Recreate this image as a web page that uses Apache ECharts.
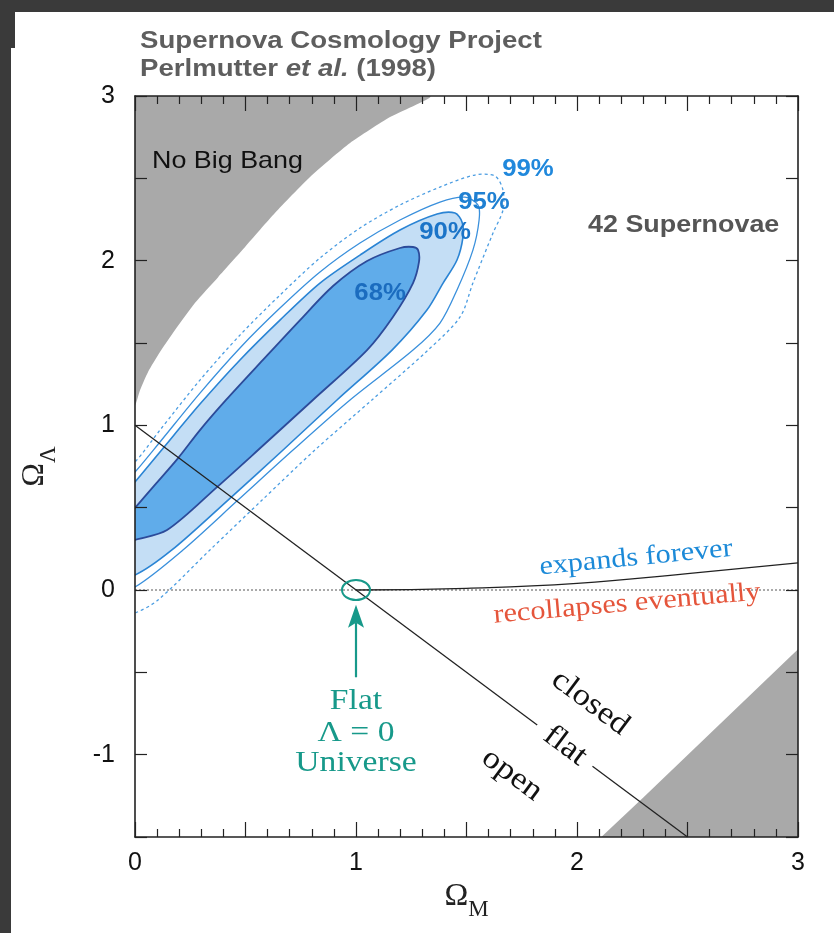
<!DOCTYPE html>
<html><head><meta charset="utf-8">
<script src="https://cdn.jsdelivr.net/npm/echarts@6/dist/echarts.min.js"></script>
<style>html,body{margin:0;padding:0;background:#fff}#c{width:834px;height:933px}</style>
</head><body><div id="c"></div><script>
// ---------- data (Omega_M, Omega_Lambda) ----------
const xTickLabels = [0, 1, 2, 3];
const yTickLabels = [3, 2, 1, 0, -1];

const noBigBang = [[0,1.123],[0.023,1.214],[0.059,1.324],[0.113,1.445],[0.181,1.579],[0.271,1.743],[0.376,1.900],[0.498,2.083],[0.633,2.289],[0.792,2.508],[0.973,2.714],[1.154,2.872],[1.335,3.0],[0,3.0]];
const lowerRight = [[2.11,-1.5],[2.3,-1.26],[3.0,-0.36],[3.0,-1.5]];

const contour68 = [[1.258,2.083],[1.199,2.077],[1.050,1.998],[0.896,1.846],[0.747,1.639],[0.579,1.397],[0.412,1.154],[0.294,0.971],[0.195,0.801],[0.090,0.638],[0,0.498],[-0.077,0.376],[-0.090,0.273],[0,0.304],[0.145,0.364],[0.371,0.625],[0.557,0.850],[0.805,1.154],[1.050,1.457],[1.167,1.658],[1.258,1.864],[1.285,1.992],[1.281,2.064]];
const contour90 = [[1.448,2.289],[1.367,2.283],[1.199,2.186],[1.018,2.034],[0.837,1.864],[0.656,1.639],[0.475,1.397],[0.294,1.129],[0.113,0.838],[0,0.656],[-0.113,0.486],[-0.136,0.061],[0,0.091],[0.167,0.243],[0.421,0.546],[0.670,0.850],[0.914,1.154],[1.163,1.457],[1.321,1.700],[1.394,1.864],[1.457,2.004],[1.484,2.143],[1.480,2.234]];
const contour95 = [[1.552,2.338],[1.493,2.386],[1.380,2.356],[1.199,2.247],[1.018,2.107],[0.837,1.931],[0.656,1.712],[0.475,1.470],[0.294,1.196],[0.113,0.899],[0,0.716],[-0.136,0.516],[-0.158,-0.061],[0,0.018],[0.217,0.243],[0.466,0.546],[0.715,0.850],[0.973,1.154],[1.258,1.457],[1.380,1.621],[1.457,1.822],[1.529,2.064],[1.557,2.247]];
const contour99 = [[1.665,2.429],[1.629,2.514],[1.538,2.520],[1.380,2.447],[1.199,2.338],[1.018,2.198],[0.837,2.016],[0.656,1.791],[0.475,1.548],[0.294,1.275],[0.113,0.971],[0,0.777],[-0.158,0.577],[-0.181,-0.213],[0,-0.140],[0.104,-0.061],[0.339,0.243],[0.575,0.546],[0.814,0.850],[1.072,1.154],[1.326,1.457],[1.471,1.658],[1.529,1.864],[1.620,2.168],[1.665,2.307]];

const flatLineA = [[0,1],[1.82,-0.82]];
const flatLineB = [[2.07,-1.07],[2.5,-1.5]];
const zeroLine = [[0,0],[3,0]];
const expandsLine = [[1,0],[1.5,0.01],[2,0.04],[2.5,0.10],[3,0.165]];
const flatPoint = [[1,0]];
const arrowLine = [[1,-0.53],[1,-0.09]];

const annoText = ['No Big Bang','42 Supernovae','68%','90%','95%','99%','expands forever','recollapses eventually','Flat','\u039B = 0','Universe','closed','flat','open'];
const annoPos = [[0.077,2.605],[2.05,2.216],[1.109,1.797],[1.403,2.168],[1.579,2.35],[1.778,2.55],[2.267,0.194],[2.226,-0.085],[1,-0.674],[1,-0.868],[1,-1.05],[2.06,-0.686],[1.946,-0.947],[1.706,-1.123]];

// ---------- styles ----------
const SANS = '"Liberation Sans", Arial, sans-serif';
const SERIF = '"Liberation Serif", "Times New Roman", serif';
const TEAL = '#17998a';
const deg = Math.PI/180;
const annoStyle = [
  {font:'24px '+SANS, color:'#111', align:'left'},
  {font:'bold 24px '+SANS, color:'#555', align:'left'},
  {font:'bold 23px '+SANS, color:'#1b6cbf'},
  {font:'bold 23px '+SANS, color:'#1b74c8'},
  {font:'bold 23px '+SANS, color:'#1f80d2'},
  {font:'bold 23px '+SANS, color:'#2088dc'},
  {font:'27px '+SERIF, color:'#1c8ad8', rot:5.5},
  {font:'27px '+SERIF, color:'#e5553b', rot:5},
  {font:'30px '+SERIF, color:TEAL},
  {font:'30px '+SERIF, color:TEAL},
  {font:'30px '+SERIF, color:TEAL},
  {font:'31px '+SERIF, color:'#111', rot:-36.7},
  {font:'31px '+SERIF, color:'#111', rot:-36.7},
  {font:'31px '+SERIF, color:'#111', rot:-36.7}
];

function clipOf(params){const c=params.coordSys;return {type:'rect',shape:{x:c.x,y:c.y,width:c.width,height:c.height}};}
function polySeries(pts, st, z){
  return {type:'custom', coordinateSystem:'cartesian2d', data:pts, z:z, silent:true,
    renderItem:function(params, api){
      if(params.dataIndex!==0) return;
      const points = pts.map(p=>api.coord(p));
      return {type:'polygon', shape:{points:points, smooth:st.smooth||0},
        style:{fill:st.fill||'none', stroke:st.stroke||null, lineWidth:st.lw||0, lineDash:st.dash||null},
        clipPath:clipOf(params)};
    }};
}
function lineSeries(data, st, z){
  return {type:'line', data:data, symbol:'none', silent:true, z:z, smooth:st.smooth||false,
    lineStyle:{color:st.color, width:st.width, type:st.type||'solid'}};
}

const chart = echarts.init(document.getElementById('c'), null, {renderer:'canvas'});
const tickStyle = {color:'#222',width:1.2};
const nameRich = {o:{fontFamily:'Liberation Serif',fontSize:32,color:'#222',lineHeight:36,verticalAlign:'bottom'},
                  s:{fontFamily:'Liberation Serif',fontSize:23,color:'#222',lineHeight:36,verticalAlign:'bottom',padding:[0,0,-9,0]}};
chart.setOption({
  animation:false,
  backgroundColor:'#fff',
  grid:{left:135,right:36,top:96,bottom:96,containLabel:false},
  graphic:[
    {type:'rect',shape:{x:0,y:0,width:834,height:12},style:{fill:'#3a3a3a'},z:100},
    {type:'rect',shape:{x:0,y:0,width:15,height:48},style:{fill:'#3a3a3a'},z:100},
    {type:'rect',shape:{x:0,y:0,width:11,height:933},style:{fill:'#3a3a3a'},z:100},
    {type:'text',x:140,y:42,scaleX:1.2,style:{text:'Supernova Cosmology Project',font:'bold 23px '+SANS,fill:'#5e5e5e',verticalAlign:'middle'}},
    {type:'text',x:140,y:70,scaleX:1.2,style:{text:'{n|Perlmutter }{i|et al.}{n| (1998)}',verticalAlign:'middle',
      rich:{n:{font:'bold 23px '+SANS,fill:'#5e5e5e'},i:{font:'italic bold 23px '+SANS,fill:'#5e5e5e'}}}}
  ],
  xAxis:[
    {type:'value',position:'bottom',min:0,max:3,interval:0.5,z:20,
      name:'{o|\u03A9}{s|M}',nameLocation:'middle',nameGap:26,nameTextStyle:{rich:nameRich},
      axisLine:{onZero:false,lineStyle:{color:'#222',width:1.6}},splitLine:{show:false},
      axisTick:{inside:true,length:15,lineStyle:tickStyle},
      minorTick:{show:true,splitNumber:5,length:8,lineStyle:tickStyle},
      axisLabel:{margin:14,fontFamily:SANS,fontSize:25,color:'#111',formatter:v=>xTickLabels.includes(v)?String(v):''}
    },
    {type:'value',position:'top',min:0,max:3,interval:0.5,z:20,
      axisLine:{onZero:false,lineStyle:{color:'#222',width:1.6}},splitLine:{show:false},
      axisTick:{inside:true,length:15,lineStyle:tickStyle},
      minorTick:{show:true,splitNumber:5,length:8,lineStyle:tickStyle},
      axisLabel:{show:false}
    }
  ],
  yAxis:[
    {type:'value',position:'left',min:-1.5,max:3,interval:0.5,z:20,
      name:'{o|\u03A9}{s|\u039B}',nameLocation:'middle',nameGap:84,nameRotate:90,nameTextStyle:{rich:nameRich},
      axisLine:{onZero:false,lineStyle:{color:'#222',width:1.6}},splitLine:{show:false},
      axisTick:{inside:true,length:12,lineStyle:tickStyle},
      axisLabel:{margin:20,fontFamily:SANS,fontSize:25,color:'#111',formatter:v=>yTickLabels.includes(v)?String(v):''}
    },
    {type:'value',position:'right',min:-1.5,max:3,interval:0.5,z:20,
      axisLine:{onZero:false,lineStyle:{color:'#222',width:1.6}},splitLine:{show:false},
      axisTick:{inside:true,length:12,lineStyle:tickStyle},
      axisLabel:{show:false}
    }
  ],
  series:[
    polySeries(noBigBang,{fill:'#a9a9a9',smooth:0.2},1),
    polySeries(lowerRight,{fill:'#a9a9a9'},1),
    polySeries(contour99,{stroke:'#4b9de2',lw:1.3,dash:[3,3],smooth:0.3},2),
    polySeries(contour95,{stroke:'#3a90dc',lw:1.3,smooth:0.3},2),
    polySeries(contour90,{fill:'#c4def5',stroke:'#2a84d4',lw:1.6,smooth:0.3},3),
    polySeries(contour68,{fill:'#60acea',stroke:'#2c4b9a',lw:1.8,smooth:0.3},4),
    lineSeries(zeroLine,{color:'#555',width:1,type:[2,2]},5),
    lineSeries(flatLineA,{color:'#222',width:1.3},6),
    lineSeries(flatLineB,{color:'#222',width:1.3},6),
    lineSeries(expandsLine,{color:'#222',width:1.3,smooth:true},6),
    {type:'custom',coordinateSystem:'cartesian2d',data:flatPoint,z:7,silent:true,
      renderItem:function(params,api){
        const p=api.coord([api.value(0),api.value(1)]);
        return {type:'ellipse',shape:{cx:p[0],cy:p[1],rx:14,ry:10},style:{fill:'none',stroke:TEAL,lineWidth:2}};
      }},
    {type:'custom',coordinateSystem:'cartesian2d',data:arrowLine,z:7,silent:true,
      renderItem:function(params,api){
        if(params.dataIndex!==0) return;
        const a=api.coord(arrowLine[0]), b=api.coord(arrowLine[1]);
        return {type:'group',children:[
          {type:'line',shape:{x1:a[0],y1:a[1],x2:b[0],y2:b[1]+18},style:{stroke:TEAL,lineWidth:2.2}},
          {type:'polygon',shape:{points:[[b[0],b[1]],[b[0]-8,b[1]+23],[b[0],b[1]+18],[b[0]+8,b[1]+23]]},style:{fill:TEAL}}
        ]};
      }},
    {type:'custom',coordinateSystem:'cartesian2d',data:annoPos,z:8,silent:true,
      renderItem:function(params,api){
        const i=params.dataIndex, s=annoStyle[i];
        const p=api.coord([api.value(0),api.value(1)]);
        return {type:'text',x:p[0],y:p[1],rotation:(s.rot||0)*deg,scaleX:1.12,
          style:{text:annoText[i],font:s.font,fill:s.color,align:s.align||'center',verticalAlign:'middle'}};
      }}
  ]
});
</script></body></html>
